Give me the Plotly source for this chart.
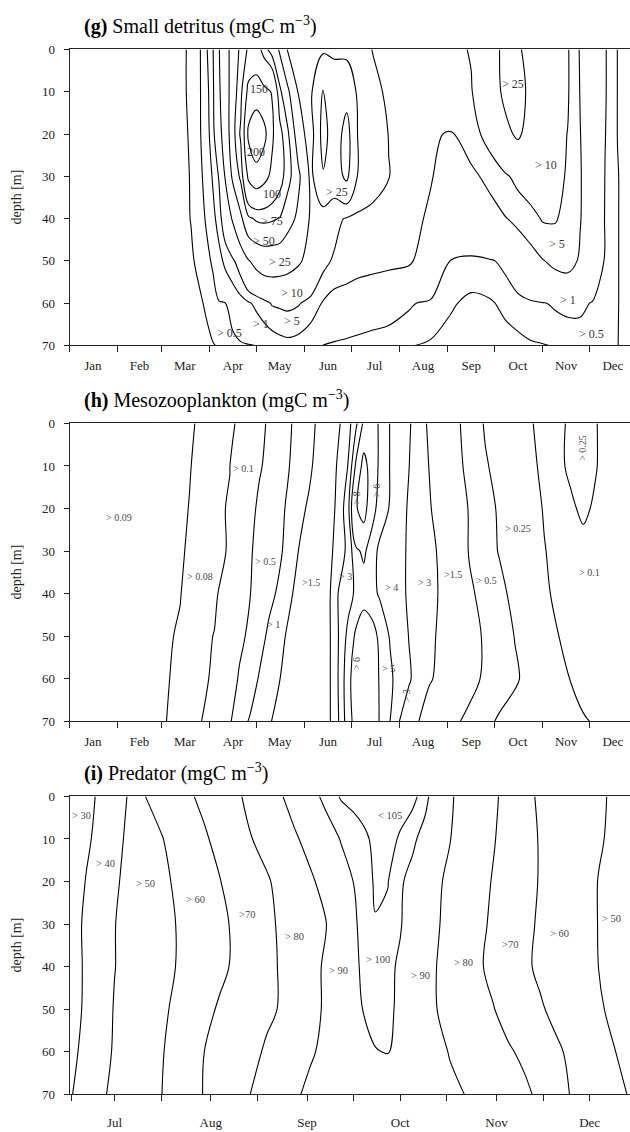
import plotly.graph_objects as go

FONT = "Liberation Serif"

DEPTHS = [0, 10, 20, 30, 40, 50, 60, 70]
MONTHS = ["Jan", "Feb", "Mar", "Apr", "May", "Jun", "Jul", "Aug", "Sep", "Oct", "Nov", "Dec"]
MONTH_START = [0, 31, 59, 90, 120, 151, 181, 212, 243, 273, 304, 334]
MONTH_MID = [15, 45, 74, 105, 135, 166, 196, 227, 258, 288, 319, 349]

# (g) small detritus, mgC m-3, rows = depth 0..70 m, columns = day of year
detritus_days = [0, 50, 72, 78, 84, 88, 92, 96, 100, 105, 110, 115, 120, 125, 130, 135, 140, 147, 155, 163,
                 170, 178, 186, 195, 205, 218, 232, 245, 258, 270, 280, 288, 296, 304, 312, 320, 328, 336, 344, 352, 360]
detritus = [
    [0.2, 0.25, 0.4, 0.6, 0.95, 4.5, 9, 24, 40, 60, 80, 105, 120, 85, 62, 48, 24, 20, 21, 22,
     22, 20, 15, 9.5, 8, 7, 7.5, 8, 10.5, 20, 28, 27, 20, 15, 12, 10.5, 4.5, 2, 1.05, 0.49, 0.3],
    [0.2, 0.25, 0.4, 0.6, 0.9, 3.5, 8, 22, 38, 62, 90, 165, 170, 160, 148, 80, 55, 24, 22, 52,
     35, 40, 20, 13, 8, 6.5, 6.5, 7, 9.5, 18, 28, 30, 22, 15, 12, 10.5, 4.8, 2, 1.05, 0.49, 0.3],
    [0.2, 0.25, 0.4, 0.55, 0.85, 3, 7.5, 18, 35, 65, 105, 210, 240, 215, 160, 110, 80, 35, 15, 60,
     35, 60, 20, 15, 9.8, 7, 5.3, 4.8, 7, 13, 22, 27, 20, 14, 11.5, 9.9, 5.1, 2, 1.02, 0.49, 0.3],
    [0.2, 0.25, 0.4, 0.52, 0.7, 1.6, 5.5, 10.5, 26, 55, 80, 160, 180, 165, 140, 115, 85, 55, 20, 48,
     38, 55, 20, 14, 10.2, 7, 5.2, 3.5, 4.2, 6, 9, 12, 14, 13, 11.5, 9.5, 5.3, 2, 0.98, 0.52, 0.3],
    [0.2, 0.25, 0.4, 0.51, 0.7, 1.1, 3.5, 7, 15, 27, 45, 70, 78, 80, 78, 74, 60, 45, 22, 16,
     13, 9, 8, 7.5, 7, 6, 4.5, 2.5, 2.5, 3.5, 4.8, 6, 8, 10.5, 10.5, 8, 5.2, 2, 0.95, 0.52, 0.3],
    [0.2, 0.25, 0.35, 0.45, 0.6, 0.8, 1.1, 3.5, 6, 9, 14, 24, 30, 34, 34, 33, 31, 27, 20, 12,
     9, 8, 7, 6.5, 6, 5.5, 3, 0.95, 0.8, 0.9, 1.2, 2, 3, 4.8, 6, 6.5, 4.5, 2, 0.9, 0.52, 0.3],
    [0.2, 0.22, 0.3, 0.38, 0.46, 0.55, 0.7, 0.85, 0.97, 1.6, 3, 4.5, 6, 8, 10.5, 11, 11.5, 10.5, 8, 4.5,
     3, 2.5, 2, 1.7, 1.5, 1.1, 0.8, 0.55, 0.4, 0.45, 0.6, 0.7, 0.85, 0.95, 1.1, 1.2, 1.15, 0.95, 0.7, 0.52, 0.3],
    [0.2, 0.2, 0.25, 0.3, 0.38, 0.42, 0.48, 0.53, 0.6, 0.7, 0.8, 0.9, 1.02, 1.5, 2, 3, 3.5, 3, 1.5, 0.95,
     0.8, 0.7, 0.65, 0.6, 0.55, 0.52, 0.45, 0.35, 0.3, 0.3, 0.35, 0.4, 0.45, 0.48, 0.52, 0.6, 0.7, 0.75, 0.65, 0.51, 0.3],
]
detritus_levels = [0.5, 1, 5, 10, 25, 50, 75, 100, 150, 200]

# (h) mesozooplankton, mgC m-3
meso_days = [0, 50, 61, 71, 77, 84, 93, 103, 109, 116, 122, 128, 135, 141, 148, 154, 161, 167, 173, 179,
             184, 189, 194, 199, 206, 212, 218, 225, 231, 238, 247, 257, 267, 276, 286, 295, 305, 315, 322, 330,
             338, 346, 360]
meso = [
    [0.085, 0.087, 0.088, 0.089, 0.0895, 0.0905, 0.093, 0.094, 0.105, 0.25, 0.38, 0.56, 0.75, 0.95, 1.15, 1.38, 1.6, 2.2, 2.9, 3.6,
     4.8, 6.2, 7.0, 5.8, 4.95, 4.6, 4.1, 3.5, 2.8, 2.3, 1.6, 1.35, 0.95, 0.8, 0.65, 0.52, 0.45, 0.45, 0.55, 0.6,
     0.52, 0.35, 0.3],
    [0.085, 0.087, 0.088, 0.0893, 0.0898, 0.091, 0.094, 0.0995, 0.15, 0.28, 0.45, 0.62, 0.8, 0.99, 1.2, 1.38, 1.8, 2.4, 3.2, 4.05,
     6.2, 8.8, 7.0, 5.8, 4.95, 4.6, 4.02, 3.4, 2.98, 2.5, 1.7, 1.35, 1.05, 0.85, 0.7, 0.56, 0.45, 0.45, 0.56, 0.62,
     0.52, 0.35, 0.3],
    [0.085, 0.087, 0.088, 0.0893, 0.0901, 0.092, 0.095, 0.102, 0.18, 0.35, 0.6, 0.75, 0.9, 1.08, 1.35, 1.6, 2.0, 2.6, 3.3, 4.7,
     7.8, 8.9, 6.5, 5.6, 4.9, 4.35, 3.9, 3.5, 3.1, 2.6, 1.9, 1.45, 1.15, 0.95, 0.78, 0.62, 0.48, 0.4, 0.45, 0.56,
     0.45, 0.35, 0.3],
    [0.085, 0.087, 0.0885, 0.0895, 0.0905, 0.093, 0.097, 0.101, 0.25, 0.46, 0.62, 0.75, 0.92, 1.2, 1.55, 1.9, 2.3, 2.8, 3.4, 4.3,
     5.8, 6.2, 5.5, 4.8, 4.5, 4.2, 3.9, 3.5, 3.2, 2.9, 2.0, 1.45, 1.15, 0.98, 0.8, 0.65, 0.51, 0.42, 0.38, 0.4,
     0.38, 0.33, 0.3],
    [0.085, 0.088, 0.089, 0.0898, 0.0915, 0.094, 0.097, 0.11, 0.3, 0.49, 0.68, 0.85, 1.1, 1.4, 1.7, 2.0, 2.4, 2.9, 4.1, 4.6,
     5.2, 5.5, 5.3, 4.9, 4.5, 4.2, 3.9, 3.5, 3.2, 2.95, 2.2, 1.6, 1.3, 1.1, 0.9, 0.7, 0.55, 0.42, 0.36, 0.35,
     0.34, 0.32, 0.3],
    [0.085, 0.088, 0.0893, 0.0905, 0.093, 0.096, 0.1005, 0.2, 0.38, 0.6, 0.8, 1.1, 1.35, 1.6, 1.9, 2.2, 2.5, 2.9, 4.05, 5.3,
     6.2, 6.8, 6.5, 5.8, 4.9, 4.4, 3.98, 3.5, 3.15, 2.9, 2.3, 1.8, 1.4, 1.2, 0.99, 0.8, 0.62, 0.49, 0.4, 0.35,
     0.34, 0.32, 0.3],
    [0.085, 0.088, 0.0895, 0.091, 0.094, 0.097, 0.102, 0.25, 0.55, 0.75, 1.05, 1.25, 1.49, 1.75, 2.0, 2.3, 2.6, 2.9, 4.1, 5.7,
     6.6, 7.0, 6.6, 5.95, 5.2, 4.5, 4.1, 3.6, 3.1, 2.8, 2.2, 1.7, 1.4, 1.2, 1.05, 0.9, 0.75, 0.6, 0.49, 0.42,
     0.38, 0.34, 0.3],
    [0.085, 0.088, 0.0897, 0.092, 0.095, 0.099, 0.11, 0.45, 0.8, 1.05, 1.25, 1.45, 1.65, 1.9, 2.1, 2.35, 2.6, 2.9, 4.02, 5.6,
     6.4, 6.8, 6.6, 5.98, 4.98, 3.98, 3.5, 2.95, 2.5, 2.1, 1.6, 1.35, 1.1, 0.95, 0.85, 0.75, 0.68, 0.62, 0.58, 0.52,
     0.48, 0.4, 0.32],
]
meso_levels = [0.09, 0.1, 0.5, 1, 1.5, 3, 4, 5, 6, 8]

# (i) predator, mgC m-3, mid June to mid December
pred_days = [166, 172, 177, 181, 186, 191, 196, 201, 205, 210, 215, 220, 225, 230, 234, 239, 244, 249, 254, 258,
             261, 265, 269, 273, 277, 281, 285, 289, 294, 299, 303, 308, 313, 318, 323, 328, 332, 337, 342, 347]
pred = [
    [32, 37.5, 42, 46, 51, 60.1, 63, 66, 69, 72, 75, 79, 81.5, 85, 89, 93, 97, 102, 105.5, 106.5,
     107, 107.5, 107.5, 107, 106.5, 102.5, 94, 91, 87, 84, 81.5, 77, 73, 68.5, 66, 64, 62.5, 61, 59, 57],
    [33, 38.7, 43, 48, 51.5, 55, 59.5, 63, 66, 69, 72.5, 76, 79.8, 83, 86, 89, 92.5, 96, 100.5, 102.5,
     104, 106, 106.5, 104.5, 101.5, 97, 93, 90.2, 87, 83.5, 80.5, 77, 73, 69.5, 66.5, 64, 62.5, 60.5, 59, 57],
    [34, 40.5, 44.5, 48.8, 52.5, 55.5, 58, 61.2, 64, 67, 69.8, 73, 76, 79, 82, 85.5, 88.8, 92.5, 96.5, 100.1,
     103, 105.5, 105.2, 101, 97.5, 94, 91, 88.5, 85, 82, 79.5, 76, 73, 69.5, 66.5, 64, 62, 59.8, 58, 56],
    [35, 41.8, 45.5, 49.8, 52.5, 54.5, 57, 60.2, 62.5, 65.5, 68, 71.5, 74.5, 78, 80.8, 84, 87, 89.7, 94, 98.8,
     102, 104.8, 104, 100.5, 96.5, 93.5, 90.5, 88, 85, 81.5, 78.5, 75, 72, 69, 66.5, 64, 62, 59.8, 57.5, 55.5],
    [35, 41.5, 45.5, 49.8, 52.8, 55, 57.5, 60.2, 62.5, 65.5, 68, 71.5, 74.5, 77.5, 80.4, 84.5, 88, 90.8, 95, 98.5,
     101, 102.5, 101.5, 99, 95.5, 92.5, 89.8, 87.5, 85, 80.5, 78, 75, 71.5, 68.5, 66, 63.5, 62, 59.9, 58, 56],
    [35, 41.8, 46.5, 50.5, 53.5, 56, 58.5, 61.5, 64, 67.5, 71.2, 74, 76.5, 78.5, 80.3, 84.5, 88, 90.8, 94.5, 97.8,
     100.1, 101.5, 101, 99, 96, 93, 89.9, 88, 86, 83, 80.3, 77, 74, 71, 68, 65, 63, 60.8, 58.5, 56.5],
    [36.5, 43, 47.5, 50.8, 54, 56.5, 59.3, 63, 66, 70.1, 72.5, 75, 78, 81, 83.5, 86.5, 89.2, 91.5, 94, 96,
     97.8, 99.8, 100.2, 98.5, 96, 93.5, 91.5, 89.7, 87.5, 85, 83, 80.8, 78.5, 75, 71.5, 68.5, 66, 63, 60.2, 57.5],
    [38.5, 44.5, 49, 51.8, 54.5, 57, 59.8, 63.5, 66.5, 70.5, 74, 77, 80.2, 83, 85.5, 89, 91.5, 93.5, 95, 96,
     96.5, 97, 97, 96.5, 95.5, 94, 92.5, 91.2, 89.9, 88, 86, 84, 81.5, 78.5, 74.5, 69.5, 67, 64, 62, 59.5],
]
pred_levels = [40, 50, 60, 70, 80, 90, 100, 105]
PRED_TICKS = [181, 212, 243, 273, 304, 334]
PRED_TEXT = ["Jul", "Aug", "Sep", "Oct", "Nov", "Dec"]
PRED_HALF = [167, 196, 227, 258, 288, 319]

# contour labels: text, day, depth, rotated
detritus_labels = [
    ("150", 122, 9.3, False), ("200", 120, 24.3, False), ("100", 130, 34.3, False),
    ("> 75", 130, 40.6, False), ("> 50", 125, 45.3, False), ("> 25", 135, 50.2, False),
    ("> 10", 143, 57.6, False), ("> 5", 143, 64.2, False), ("> 1", 123, 65, False),
    ("> 0.5", 103, 67, False), ("> 25", 172, 33.8, False), ("> 25", 285, 8.2, False),
    ("> 10", 306, 27.3, False), ("> 5", 313, 46, False), ("> 1", 320, 59.3, False),
    ("> 0.5", 335, 67.2, False),
]
meso_labels = [
    ("> 0.09", 32, 22, False), ("> 0.08", 84, 36, False), ("> 0.1", 112, 10.7, False),
    ("> 0.5", 126, 32.5, False), ("> 1", 131, 47.3, False), (">1.5", 155, 37.3, False),
    ("> 3", 177, 36, False), ("> 8", 184, 17.4, True), ("> 6", 197, 15.8, True),
    ("> 4", 207, 38.5, False), ("> 6", 184, 56.3, True), ("> 5", 205, 57.5, False),
    ("> 3", 217, 64, True), ("> 3", 228, 37.3, False), (">1.5", 246, 35.5, False),
    ("> 0.5", 268, 37, False), ("> 0.25", 288, 24.6, False), ("> 0.1", 334, 35, False),
    ("> 0.25", 329, 5.8, True),
]
pred_labels = [
    ("> 30", 170.4, 4.6, False), ("> 40", 178, 15.8, False), ("> 50", 191, 20.4, False),
    ("> 60", 207, 24.3, False), (">70", 223.7, 27.8, False), ("> 80", 239, 33, False),
    ("> 90", 253, 41, False), ("> 100", 265.8, 38.2, False), ("< 105", 269.7, 4.4, False),
    ("> 90", 279.6, 42, False), ("> 80", 293.5, 39, False), (">70", 308.3, 34.8, False),
    ("> 60", 324.3, 32.2, False), ("> 50", 341, 28.7, False),
]

H = 1132
W = 630
X0 = 69.5 / W
panels = [
    dict(days=detritus_days, z=detritus, levels=detritus_levels, labels=detritus_labels,
         top=43, bottom=343, lab_size=12, lab_color="#333333",
         title="<b>(g)</b> Small detritus (mgC m<sup>\u22123</sup>)"),
    dict(days=meso_days, z=meso, levels=meso_levels, labels=meso_labels,
         top=422, bottom=724, lab_size=10, lab_color="#4a4a4a",
         title="<b>(h)</b> Mesozooplankton (mgC m<sup>\u22123</sup>)"),
    dict(days=pred_days, z=pred, levels=pred_levels, labels=pred_labels,
         top=800, bottom=1102, lab_size=10.5, lab_color="#4a4a4a",
         title="<b>(i)</b> Predator (mgC m<sup>\u22123</sup>)"),
]

fig = go.Figure()
layout = {}
annotations = []

for i, p in enumerate(panels):
    n = "" if i == 0 else str(i + 1)
    xa, ya = "x" + n, "y" + n
    for lev in p["levels"]:
        fig.add_trace(go.Contour(
            x=p["days"], y=DEPTHS, z=p["z"],
            autocontour=False,
            contours=dict(start=lev, end=lev, size=1, coloring="none", showlabels=False),
            line=dict(color="black", width=1.1, smoothing=1.0),
            showscale=False, hoverinfo="skip",
            xaxis=xa, yaxis=ya,
        ))
    dom = [1 - p["bottom"] / H, 1 - p["top"] / H]
    xcommon = dict(
        domain=[X0, 1.0], anchor=ya, showgrid=False, zeroline=False,
        showline=True, linecolor="#222222", linewidth=1, mirror=True,
        ticklabeloverflow="allow",
        tickfont=dict(family=FONT, size=13, color="#222222"),
    )
    if i < 2:
        xcommon.update(range=[0, 360], tickmode="array", tickvals=MONTH_MID, ticktext=MONTHS,
                       ticks="", ticklabelstandoff=8,
                       minor=dict(tickmode="array", tickvals=MONTH_START, ticks="outside",
                                  ticklen=6, tickcolor="#222222", tickwidth=1))
    else:
        xcommon.update(range=[166.5, 347], tickmode="array", tickvals=PRED_TICKS, ticktext=PRED_TEXT,
                       ticks="outside", ticklen=6, tickcolor="#222222", ticklabelstandoff=10,
                       minor=dict(tickmode="array", tickvals=PRED_HALF, ticks="outside",
                                  ticklen=6, tickcolor="#222222", tickwidth=1))
    layout["xaxis" + n] = xcommon
    layout["yaxis" + n] = dict(
        domain=dom, anchor=xa, range=[70, 0], tickmode="array", tickvals=DEPTHS,
        ticks="outside", ticklen=5, tickcolor="#222222", showgrid=False, zeroline=False,
        showline=True, linecolor="#222222", linewidth=1, ticklabelstandoff=6,
        tickfont=dict(family=FONT, size=13, color="#222222"),
    )
    annotations.append(dict(
        text=p["title"], xref="paper", yref="paper", x=82 / W, y=1 - (p["top"] - 10) / H,
        xanchor="left", yanchor="bottom", showarrow=False,
        font=dict(family=FONT, size=20, color="black"),
    ))
    annotations.append(dict(
        text="depth [m]", xref="paper", yref="paper", x=16 / W, y=(dom[0] + dom[1]) / 2,
        xanchor="center", yanchor="middle", textangle=-90, showarrow=False,
        font=dict(family=FONT, size=14, color="#222222"),
    ))
    for text, day, depth, rot in p["labels"]:
        annotations.append(dict(
            text=text, x=day, y=depth, xref=xa, yref=ya, showarrow=False,
            textangle=-90 if rot else 0,
            font=dict(family=FONT, size=p["lab_size"], color=p["lab_color"]),
        ))

fig.update_layout(
    width=W, height=H, margin=dict(l=0, r=0, t=0, b=0),
    paper_bgcolor="white", plot_bgcolor="white", showlegend=False,
    annotations=annotations, **layout,
)

fig.write_html(
    "out.html",
    config={"displayModeBar": False},
    post_script="document.body.style.margin='0';document.body.style.overflow='hidden';",
)
